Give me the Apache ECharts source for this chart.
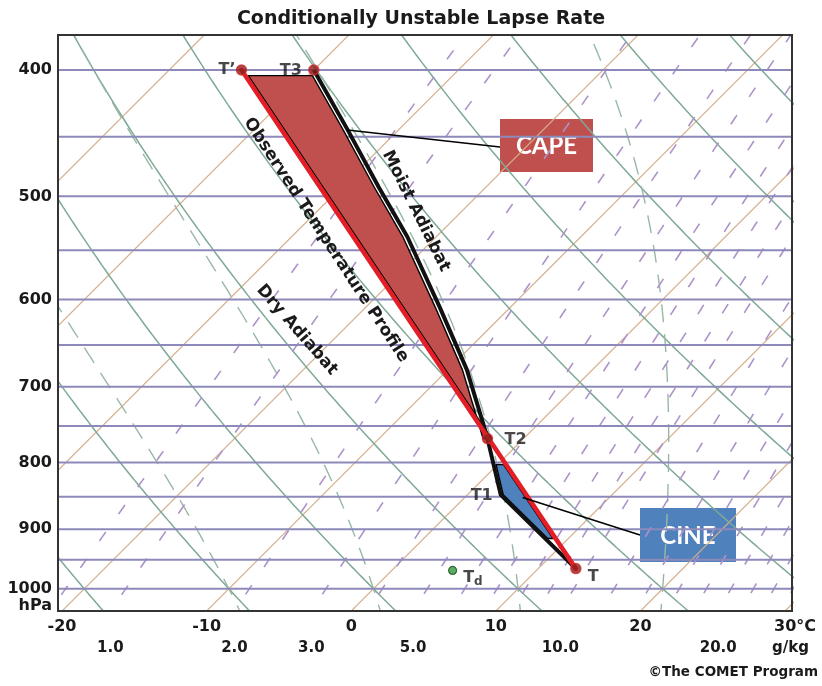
<!DOCTYPE html>
<html>
<head>
<meta charset="utf-8">
<title>Conditionally Unstable Lapse Rate</title>
<script src="https://cdn.jsdelivr.net/npm/echarts@6.0.0/dist/echarts.min.js"></script>
<style>
  html, body { margin: 0; padding: 0; background: #ffffff; }
  #chart { width: 822px; height: 686px; }
</style>
</head>
<body>
<div id="chart"></div>
<script>
// ---- Sounding (pressure in hPa, temperature in °C) ----
const observedPressure = [965, 400];
const observedTemp = [12.6, -45.0];

const parcelPressure = [965, 847, 767, 746, 679, 608, 537, 492, 444, 400];
const parcelTemp = [12.6, 2.3, -2.5, -3.9, -8.7, -14.9, -22.0, -27.4, -33.6, -40.0];

const dewPressure = [968];
const dewTemp = [4.2];

const keyPointNames = ['T', 'T1', 'T2', 'T3', 'T\u2019'];
const keyPointPressure = [965, 847, 767, 400, 400];
const keyPointTemp = [12.6, 2.3, -2.5, -40.0, -45.0];

// shaded layers: [lower pressure bound, upper pressure bound]
const capeLayer = [767, 404];
const cinLayer = [915, 803];

// ---- Diagram background ----
const isobarLevels = [400, 450, 500, 550, 600, 650, 700, 750, 800, 850, 900, 950, 1000];
const isothermValues = [-60, -50, -40, -30, -20, -10, 0, 10, 20, 30];
const dryAdiabatTheta = [-20, -10, 0, 10, 20, 30, 40, 50, 60, 70];
const moistAdiabatThetaW = [-10, 0, 10, 20, 30];
const mixingRatioLines = [0.7, 1, 2, 3, 4, 5, 6, 7, 8, 9, 10, 12, 14, 16, 18, 20, 22, 24, 26, 28];

// ---- Axis labels ----
const pressureTicks = [400, 500, 600, 700, 800, 900, 1000];
const temperatureTicks = [-20, -10, 0, 10, 20, 30];
const mixingRatioTicks = [1, 2, 3, 5, 10, 20];

// ---- Skew-T geometry ----
const P_BOTTOM = 1040, P_TOP = 376;
const SKEW = 39.15;            // °C of horizontal shift per unit of ln(p)
const X_MIN = -20.28, X_MAX = 30.48;
const FONT = '"DejaVu Sans", "Liberation Sans", Arial, sans-serif';

function skewPoint(t, p) { return [t + SKEW * Math.log(P_BOTTOM / p), Math.log(p)]; }

function satVap(tc) { return 6.112 * Math.exp(17.67 * tc / (tc + 243.5)); }
function dewFromVap(e) { const l = Math.log(e / 6.112); return 243.5 * l / (17.67 - l); }
function mixingDew(w, p) { return dewFromVap(w * p / (622 + w)); }

function moistLapse(p, tk) {
  const Rd = 287.04, Lv = 2.501e6, cp = 1005.7, eps = 0.622;
  const e = satVap(tk - 273.15);
  const rs = eps * e / (p - e);
  return (1 / p) * (Rd * tk + Lv * rs) / (cp + (Lv * Lv * rs * eps) / (Rd * tk * tk));
}
function integrateMoist(tk, p0, p1, step) {
  const out = [[p0, tk]];
  const n = Math.round(Math.abs(p1 - p0) / step);
  const h = (p1 - p0) / n;
  let p = p0, t = tk;
  for (let i = 0; i < n; i++) {
    const k1 = moistLapse(p, t);
    const k2 = moistLapse(p + h / 2, t + h / 2 * k1);
    const k3 = moistLapse(p + h / 2, t + h / 2 * k2);
    const k4 = moistLapse(p + h, t + h * k3);
    t += h / 6 * (k1 + 2 * k2 + 2 * k3 + k4);
    p += h;
    out.push([p, t]);
  }
  return out;
}

const pSamples = [];
for (let p = 1060; p >= 360; p -= 5) pSamples.push(p);

// temperature along a profile at pressure p (linear in ln p)
function profileAt(ps, ts, p) {
  for (let i = 0; i < ps.length - 1; i++) {
    if (p <= ps[i] && p >= ps[i + 1]) {
      const f = Math.log(ps[i] / p) / Math.log(ps[i] / ps[i + 1]);
      return ts[i] + f * (ts[i + 1] - ts[i]);
    }
  }
  return ts[ts.length - 1];
}
function profileSegment(ps, ts, pLow, pHigh) {
  const out = [[profileAt(ps, ts, pLow), pLow]];
  for (let i = 0; i < ps.length; i++) if (ps[i] < pLow && ps[i] > pHigh) out.push([ts[i], ps[i]]);
  out.push([profileAt(ps, ts, pHigh), pHigh]);
  return out;
}

function curve(points, lineStyle, z) {
  return {
    type: 'line', data: points, symbol: 'none', silent: true, clip: true,
    lineStyle: lineStyle, z: z, animation: false
  };
}

const series = [];

// isotherms
isothermValues.forEach(t => series.push(curve([skewPoint(t, 1060), skewPoint(t, 360)],
  { color: '#d4b08c', width: 1.2 }, 1)));
// dry adiabats
dryAdiabatTheta.forEach(th => series.push(curve(pSamples.map(p =>
  skewPoint((th + 273.15) * Math.pow(p / 1000, 0.2857) - 273.15, p)),
  { color: '#7ea996', width: 1.5 }, 1)));
// moist adiabats
moistAdiabatThetaW.forEach(tw => {
  const down = integrateMoist(tw + 273.15, 1000, 1060, 2).reverse();
  const up = integrateMoist(tw + 273.15, 1000, 360, 2).slice(1);
  series.push(curve(down.concat(up).map(([p, tk]) => skewPoint(tk - 273.15, p)),
    { color: '#98b8a6', width: 1.4, type: [18, 12] }, 1));
});
// mixing ratio lines
mixingRatioLines.forEach(w => series.push(curve(pSamples.map(p => skewPoint(mixingDew(w, p), p)),
  { color: '#ad93c9', width: 1.6, type: [11, 22] }, 1)));
// isobars
isobarLevels.forEach(p => series.push(curve([[X_MIN - 5, Math.log(p)], [X_MAX + 5, Math.log(p)]],
  { color: '#8d8abb', width: 2 }, 2)));

// shaded CAPE / CIN areas
function layerArea(leftPts, rightPts, insetLeft, insetRight, fill) {
  return {
    type: 'custom', coordinateSystem: 'cartesian2d', silent: true, z: 5, animation: false,
    data: [[0, Math.log(700)]],
    renderItem: (params, api) => {
      const L = leftPts.map(([t, p]) => { const c = api.coord(skewPoint(t, p)); return [c[0] + insetLeft, c[1]]; });
      const R = rightPts.map(([t, p]) => { const c = api.coord(skewPoint(t, p)); return [c[0] - insetRight, c[1]]; });
      return {
        type: 'polygon',
        shape: { points: L.concat(R.reverse()) },
        style: { fill: fill, stroke: '#000', lineWidth: 1.4 }
      };
    }
  };
}
series.push(layerArea(
  profileSegment(observedPressure, observedTemp, capeLayer[0], capeLayer[1]),
  profileSegment(parcelPressure, parcelTemp, capeLayer[0], capeLayer[1]),
  3, 4.5, '#c0504d'));
series.push(layerArea(
  profileSegment(parcelPressure, parcelTemp, cinLayer[0], cinLayer[1]),
  profileSegment(observedPressure, observedTemp, cinLayer[0], cinLayer[1]),
  2.5, 2.5, '#4f81bd'));

// parcel path and observed profile
series.push({
  type: 'line', silent: true, symbol: 'none', z: 6, animation: false,
  data: parcelPressure.map((p, i) => skewPoint(parcelTemp[i], p)),
  lineStyle: { color: '#111', width: 4, join: 'round' }
});
series.push({
  type: 'line', silent: true, symbol: 'none', z: 7, animation: false,
  data: observedPressure.map((p, i) => skewPoint(observedTemp[i], p)),
  lineStyle: { color: '#e41e26', width: 4.5, cap: 'round' }
});

// point labels
const labelFont = { fontFamily: FONT, fontWeight: 'bold', fontSize: 16, color: '#1a1a1a' };
const labelPlacement = {
  'T': { position: 'right', distance: 12, offset: [0, 8] },
  'T1': { position: 'left', distance: 8, offset: [0, 1] },
  'T2': { position: 'right', distance: 17, offset: [0, 1] },
  'T3': { position: 'left', distance: 12, offset: [0, 1] },
  'T\u2019': { position: 'left', distance: 6, offset: [0, 0] }
};
series.push({
  type: 'scatter', silent: true, z: 4, animation: false, symbolSize: 0,
  data: keyPointNames.map((n, i) => ({
    name: n, value: skewPoint(keyPointTemp[i], keyPointPressure[i]),
    label: Object.assign({ show: true, formatter: n }, labelFont, labelPlacement[n])
  }))
});
// markers (T1 has none)
series.push({
  type: 'scatter', silent: true, z: 9, animation: false, symbolSize: 10,
  itemStyle: { color: '#8e1c1c', borderColor: '#d12a2a', borderWidth: 1.5 },
  data: keyPointNames.map((n, i) => n === 'T1' ? null : skewPoint(keyPointTemp[i], keyPointPressure[i])).filter(Boolean)
});
// dew point
series.push({
  type: 'scatter', silent: true, z: 9, animation: false, symbolSize: 8,
  itemStyle: { color: '#2f9a3a', borderColor: '#1b4f1f', borderWidth: 1.2 },
  data: dewPressure.map((p, i) => skewPoint(dewTemp[i], p)),
  label: {
    show: true, position: 'right', distance: 6, offset: [0, 7],
    formatter: '{a|T}{b|d}',
    rich: {
      a: { fontFamily: FONT, fontWeight: 'bold', fontSize: 16, color: '#1a1a1a' },
      b: { fontFamily: FONT, fontWeight: 'bold', fontSize: 12, color: '#1a1a1a', padding: [8, 0, 0, 0] }
    }
  }
});

const mixingTickValues = mixingRatioTicks.map(w => mixingDew(w, P_BOTTOM));
const unitTickValue = X_MAX - 0.1;

const axisText = { fontFamily: FONT, fontWeight: 'bold', color: '#1a1a1a' };

const option = {
  animation: false,
  backgroundColor: '#ffffff',
  title: {
    text: 'Conditionally Unstable Lapse Rate',
    left: 416, top: 5, textAlign: 'center',
    textStyle: { fontFamily: FONT, fontWeight: 'bold', fontSize: 19, color: '#1a1a1a' }
  },
  grid: { left: 58, right: 30, top: 35, bottom: 75, show: true, backgroundColor: '#ffffff', borderWidth: 0 },
  xAxis: [
    {
      type: 'value', min: X_MIN, max: X_MAX, position: 'bottom',
      axisLine: { show: false }, axisTick: { show: false }, splitLine: { show: false },
      axisLabel: Object.assign({
        customValues: temperatureTicks, fontSize: 16, margin: 8,
        formatter: v => Math.round(v) === 30 ? '{u|30°C}' : String(Math.round(v)),
        rich: { u: Object.assign({ fontSize: 16, padding: [0, 0, 0, 20] }, { fontFamily: FONT, fontWeight: 'bold', color: '#1a1a1a' }) }
      }, axisText)
    },
    {
      type: 'value', min: X_MIN, max: X_MAX, position: 'bottom', offset: 22,
      axisLine: { show: false }, axisTick: { show: false }, splitLine: { show: false },
      axisLabel: Object.assign({
        customValues: mixingTickValues.concat([unitTickValue]), fontSize: 15, margin: 8,
        formatter: v => {
          if (Math.abs(v - unitTickValue) < 1e-6) return 'g/kg';
          const i = mixingTickValues.findIndex(m => Math.abs(m - v) < 1e-6);
          return i >= 0 ? mixingRatioTicks[i].toFixed(1) : '';
        }
      }, axisText)
    }
  ],
  yAxis: {
    type: 'value', inverse: true, min: Math.log(P_TOP), max: Math.log(P_BOTTOM),
    axisLine: { show: false }, axisTick: { show: false }, splitLine: { show: false },
    axisLabel: Object.assign({
      customValues: pressureTicks.map(p => Math.log(p)), fontSize: 16, margin: 6,
      formatter: v => String(Math.round(Math.exp(v)))
    }, axisText)
  },
  series: series
};

const chart = echarts.init(document.getElementById('chart'));
chart.setOption(option);

// frame, call-out boxes and line annotations
const toPx = (t, p) => chart.convertToPixel({ gridIndex: 0 }, skewPoint(t, p));
const tl = chart.convertToPixel({ gridIndex: 0 }, [X_MIN, Math.log(P_TOP)]);
const br = chart.convertToPixel({ gridIndex: 0 }, [X_MAX, Math.log(P_BOTTOM)]);
const capeTarget = toPx(profileAt(parcelPressure, parcelTemp, 444), 444);
const cinTarget = toPx(4.0, 851);
const capeBox = { x: 500, y: 119, width: 93, height: 53 };
const cinBox = { x: 640, y: 508, width: 96, height: 54 };

function rotatedText(text, x, y, deg) {
  return {
    type: 'text', x: x, y: y, rotation: -deg * Math.PI / 180, z: 20, silent: true,
    style: { text: text, font: 'bold 17px ' + FONT, fill: '#1a1a1a', align: 'center', verticalAlign: 'middle' }
  };
}

chart.setOption({
  graphic: [
    {
      type: 'rect', z: 30, silent: true,
      shape: { x: tl[0], y: tl[1], width: br[0] - tl[0], height: br[1] - tl[1] },
      style: { fill: 'none', stroke: '#333', lineWidth: 2 }
    },
    rotatedText('Observed Temperature Profile', 326, 240, 56.9),
    rotatedText('Moist Adiabat', 416, 211, 63.6),
    rotatedText('Dry Adiabat', 297, 330, 48.8),
    {
      type: 'line', z: 25, silent: true,
      shape: { x1: capeBox.x, y1: capeBox.y + 28, x2: capeTarget[0], y2: capeTarget[1] + 1 },
      style: { stroke: '#000', lineWidth: 1.5 }
    },
    {
      type: 'line', z: 25, silent: true,
      shape: { x1: cinBox.x, y1: cinBox.y + 27, x2: cinTarget[0], y2: cinTarget[1] },
      style: { stroke: '#000', lineWidth: 1.5 }
    },
    {
      type: 'group', z: 26, silent: true, x: capeBox.x, y: capeBox.y,
      children: [
        { type: 'rect', shape: { x: 0, y: 0, width: capeBox.width, height: capeBox.height }, style: { fill: '#c0504d' } },
        { type: 'text', x: capeBox.width / 2, y: capeBox.height / 2 + 1,
          style: { text: 'CAPE', font: 'bold 24px Lato, "Open Sans", sans-serif', fill: '#ffffff', align: 'center', verticalAlign: 'middle' } }
      ]
    },
    {
      type: 'group', z: 26, silent: true, x: cinBox.x, y: cinBox.y,
      children: [
        { type: 'rect', shape: { x: 0, y: 0, width: cinBox.width, height: cinBox.height }, style: { fill: '#4f81bd' } },
        { type: 'text', x: cinBox.width / 2, y: cinBox.height / 2 + 1,
          style: { text: 'CINE', font: 'bold 24px Lato, "Open Sans", sans-serif', fill: '#ffffff', align: 'center', verticalAlign: 'middle' } }
      ]
    },
    {
      type: 'text', x: tl[0] - 6, y: 606, z: 20, silent: true,
      style: { text: 'hPa', font: 'bold 16px ' + FONT, fill: '#1a1a1a', align: 'right', verticalAlign: 'middle' }
    },
    {
      type: 'text', x: 818, y: 672, z: 20, silent: true,
      style: { text: '\u00A9The COMET Program', font: 'bold 13.5px ' + FONT, fill: '#1a1a1a', align: 'right', verticalAlign: 'middle' }
    }
  ]
});
</script>
</body>
</html>
